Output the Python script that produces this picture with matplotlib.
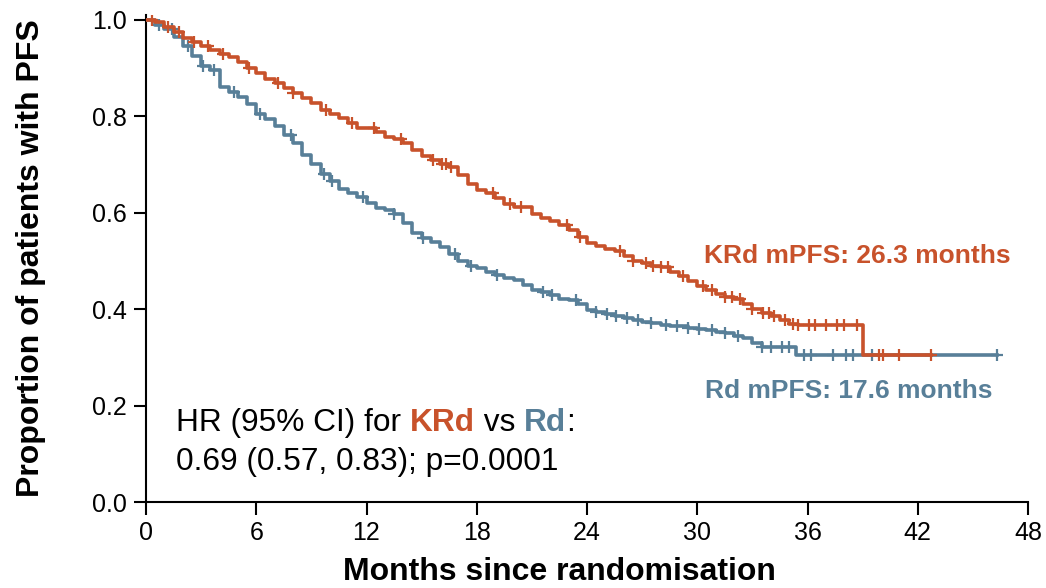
import numpy as np
import matplotlib
matplotlib.use("Agg")
import matplotlib.pyplot as plt

plt.rcParams['font.family'] = ['Liberation Sans', 'DejaVu Sans']

# ---- data ----
krd_t = [0.0, 0.5, 1.0, 1.5, 2.0, 2.5, 3.0, 3.5, 4.0, 4.5, 5.0, 5.5, 6.0, 6.5, 7.0, 7.5, 8.0, 8.5,
         9.0, 9.5, 10.0, 10.5, 11.0, 11.5, 12.5, 13.0, 13.5, 14.0, 14.5, 15.0, 15.5, 16.0, 16.5,
         17.0, 17.5, 18.0, 18.5, 19.0, 19.5, 20.0, 21.0, 21.5, 22.0, 22.5, 23.0, 23.5, 24.0, 24.5,
         25.0, 25.5, 26.0, 26.5, 27.0, 27.5, 28.0, 28.5, 29.0, 29.5, 30.0, 30.5, 31.0, 31.5, 32.0,
         32.5, 33.0, 33.5, 34.0, 34.5, 35.0, 35.5, 39.0, 42.7]
krd_s = [1.0, 0.995, 0.985, 0.975, 0.962, 0.955, 0.945, 0.938, 0.93, 0.922, 0.912, 0.9, 0.89,
         0.878, 0.868, 0.858, 0.848, 0.838, 0.828, 0.812, 0.805, 0.796, 0.785, 0.775, 0.768,
         0.758, 0.752, 0.745, 0.73, 0.718, 0.71, 0.70, 0.695, 0.678, 0.66, 0.648, 0.64, 0.63,
         0.618, 0.612, 0.598, 0.59, 0.582, 0.575, 0.565, 0.55, 0.537, 0.53, 0.525, 0.52, 0.51,
         0.50, 0.495, 0.49, 0.488, 0.478, 0.468, 0.458, 0.448, 0.44, 0.432, 0.426, 0.42, 0.41,
         0.40, 0.392, 0.385, 0.378, 0.37, 0.367, 0.305, 0.305]
krd_cens = [0.3, 1.2, 1.8, 2.6, 3.4, 4.2, 5.6, 7.2, 8.0, 9.8, 11.2, 12.4, 13.9, 15.6, 16.1, 16.3,
            16.6, 18.9, 19.8, 20.4, 22.9, 23.6, 25.8, 26.5, 27.2, 27.6, 28.0, 28.4, 29.2, 30.3,
            30.8, 31.5, 31.9, 32.3, 33.0, 33.6, 33.9, 34.2, 34.8, 35.2, 35.5, 36.1, 36.4, 37.0,
            37.6, 38.0, 38.7, 39.9, 40.1, 41.0, 42.7]

rd_t = [0.0, 0.5, 1.0, 1.5, 2.0, 2.5, 3.0, 3.5, 4.0, 4.5, 5.0, 5.5, 6.0, 6.5, 7.0, 7.5, 8.0, 8.5,
        9.0, 9.5, 10.0, 10.5, 11.0, 11.5, 12.0, 12.5, 13.0, 13.5, 14.0, 14.5, 15.0, 15.5, 16.0,
        16.5, 17.0, 17.5, 18.0, 18.5, 19.0, 19.5, 20.0, 20.5, 21.0, 21.5, 22.0, 22.5, 23.0, 23.5,
        24.0, 24.5, 25.0, 25.5, 26.0, 26.5, 27.0, 27.5, 28.0, 28.5, 29.0, 29.5, 30.0, 30.5, 31.0,
        31.5, 32.0, 32.5, 33.0, 33.5, 35.4, 46.3]
rd_s = [1.0, 0.99, 0.98, 0.965, 0.945, 0.925, 0.905, 0.895, 0.86, 0.85, 0.84, 0.825, 0.805,
        0.795, 0.78, 0.762, 0.745, 0.72, 0.70, 0.68, 0.665, 0.65, 0.64, 0.632, 0.62, 0.61, 0.605,
        0.598, 0.578, 0.558, 0.548, 0.54, 0.528, 0.515, 0.50, 0.49, 0.485, 0.478, 0.47, 0.465,
        0.46, 0.45, 0.44, 0.435, 0.43, 0.422, 0.418, 0.41, 0.398, 0.395, 0.39, 0.385, 0.382,
        0.378, 0.374, 0.372, 0.368, 0.366, 0.364, 0.361, 0.358, 0.356, 0.352, 0.35, 0.345, 0.34,
        0.33, 0.322, 0.305, 0.305]
rd_cens = [0.7, 1.4, 2.3, 3.1, 3.7, 4.8, 6.2, 7.9, 9.7, 10.1, 11.8, 13.5, 15.1, 16.8, 17.7, 19.1,
           21.6, 22.1, 23.4, 24.5, 25.1, 25.6, 26.2, 26.8, 27.5, 28.3, 28.9, 29.5, 30.1, 30.8,
           31.5, 32.2, 33.5, 34.0, 34.6, 35.0, 35.8, 36.2, 37.4, 38.1, 38.5, 39.5, 46.3]

x_ticks = [0, 6, 12, 18, 24, 30, 36, 42, 48]
y_ticks = [0.0, 0.2, 0.4, 0.6, 0.8, 1.0]

KRD_COL = '#C8522B'
RD_COL = '#587F98'

W, H = 1046, 588
fig = plt.figure(figsize=(W / 100, H / 100), dpi=100)
ax = fig.add_axes([146 / W, 1 - 502 / H, (1028 - 146) / W, (502 - 15) / H])


def surv_at(times, surv, t):
    idx = np.searchsorted(times, t, side='right') - 1
    return np.asarray(surv)[idx]


for t, s, c, cens in [(rd_t, rd_s, RD_COL, rd_cens), (krd_t, krd_s, KRD_COL, krd_cens)]:
    ax.step(t, s, where='post', color=c, lw=2.6, zorder=3)
    cy = [surv_at(t, s, ct) for ct in cens]
    ax.plot(cens, cy, linestyle='none', marker='+', color=c, ms=9, mew=1.6, zorder=3)

ax.set_xlim(0, 48)
ax.set_ylim(0, 1.01)
ax.set_xticks(x_ticks)
ax.set_xticklabels([str(v) for v in x_ticks])
ax.set_yticks(y_ticks)
ax.set_yticklabels([f"{v:.1f}" for v in y_ticks])
ax.tick_params(direction='out', length=9, width=1.5, labelsize=18, pad=5)
for side in ['top', 'right']:
    ax.spines[side].set_visible(False)
for side in ['left', 'bottom']:
    ax.spines[side].set_linewidth(1.5)

ax.set_xlabel('Months since randomisation', fontsize=23, fontweight='bold')
ax.xaxis.set_label_coords((559 - 146) / 882, -0.113)
ax.set_ylabel('Proportion of patients with PFS', fontsize=23, fontweight='bold')
ax.yaxis.set_label_coords(-(146 - 46) / 882, 0.5)

ax.text(0.98, 0.506, 'KRd mPFS: 26.3 months', transform=ax.transAxes, color=KRD_COL,
        fontsize=19, fontweight='bold', ha='right', va='center')
ax.text(0.960, 0.228, 'Rd mPFS: 17.6 months', transform=ax.transAxes, color=RD_COL,
        fontsize=19, fontweight='bold', ha='right', va='center')

# multi-coloured HR annotation
fig.canvas.draw()
renderer = fig.canvas.get_renderer()
pieces = [('HR (95% CI) for ', 'black', 'normal'), ('KRd', KRD_COL, 'bold'),
          (' vs ', 'black', 'normal'), ('Rd', RD_COL, 'bold'), (':', 'black', 'normal')]
x0 = 176 / W
xcur = x0
ybase1 = 1 - 431 / H
for txt, col, fw in pieces:
    tt = fig.text(xcur, ybase1, txt, color=col, fontsize=22.8, fontweight=fw,
                  ha='left', va='baseline')
    bb = tt.get_window_extent(renderer=renderer)
    xcur += bb.width / W
fig.text(x0, 1 - 470 / H, '0.69 (0.57, 0.83); p=0.0001', color='black', fontsize=22.8,
         ha='left', va='baseline')

fig.savefig('out.png', dpi=100)
